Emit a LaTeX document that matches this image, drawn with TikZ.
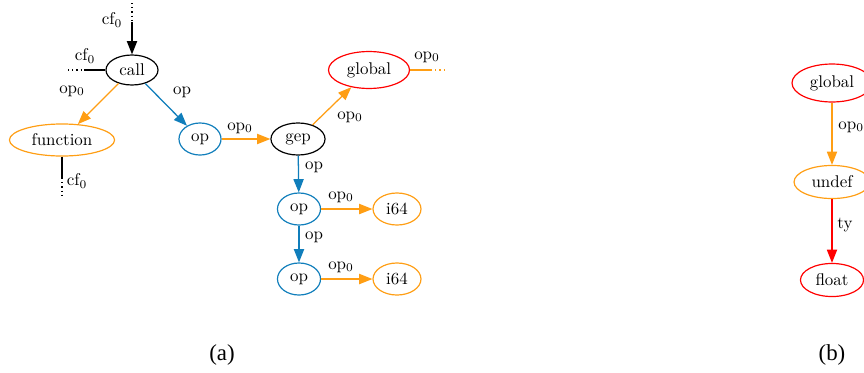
\documentclass[tikz,border=0pt]{standalone}
\usepackage{fontspec}
\newfontfamily\capfont{Liberation Serif}
\usetikzlibrary{shapes.geometric,arrows.meta}

\definecolor{opblue}{RGB}{16,126,187}
\definecolor{oporange}{RGB}{255,158,20}
\definecolor{opred}{RGB}{255,0,0}

\tikzset{
  vtx/.style={ellipse, draw, line width=0.7pt, inner sep=0pt, minimum height=18.9pt, font=\normalsize},
  blk/.style={vtx, draw=black},
  orn/.style={vtx, draw=oporange},
  blu/.style={vtx, draw=opblue},
  rd/.style={vtx, draw=opred},
  arr/.style={line width=0.75pt, -{Triangle[length=7.8pt,width=6pt]}},
  solidln/.style={line width=0.75pt},
  dotln/.style={line width=0.75pt, dash pattern=on 0.7pt off 1.8pt},
  lbl/.style={inner sep=0pt, font=\normalsize},
  captxt/.style={inner sep=0pt, font=\capfont\fontsize{13.5}{15}\selectfont}
}

\begin{document}
\begin{tikzpicture}[x=0.59pt, y=-0.59pt]
  \useasboundingbox (0,0) rectangle (864,372);

  % ---- (a): call / gep graph ----
  \node[blk, minimum width=30.7pt, minimum height=17.7pt] (call) at (132,70) {call};
  \node[orn, minimum width=62pt] (func) at (62,140) {function};
  \node[blu, minimum width=24.8pt] (op1) at (200,139) {op};
  \node[blk, minimum width=31.9pt] (gep) at (298,139) {gep};
  \node[rd, minimum width=47.8pt, minimum height=21.8pt] (glob) at (369,70) {global};
  \node[blu, minimum width=25.4pt] (op2) at (299,209) {op};
  \node[orn, minimum width=28.3pt] (i1) at (397,209) {i64};
  \node[blu, minimum width=25.4pt] (op3) at (299,279) {op};
  \node[orn, minimum width=28.3pt] (i2) at (397,279) {i64};

  % loose ends of control-flow and operand edges
  \coordinate (topA) at (132,3);
  \coordinate (topB) at (132,22);
  \coordinate (leftA) at (68,70);
  \coordinate (leftB) at (84,70);
  \coordinate (botA) at (62,178);
  \coordinate (botB) at (62,197);
  \coordinate (rightA) at (431,70);
  \coordinate (rightB) at (447,70);

  \draw[dotln] (topA) -- (topB);
  \draw[arr] (topB) -- (call);
  \draw[dotln] (leftA) -- (leftB);
  \draw[solidln] (leftB) -- (call);
  \draw[solidln] (func) -- (botA);
  \draw[dotln] (botA) -- (botB);
  \draw[solidln, oporange] (glob) -- (rightA);
  \draw[dotln, oporange] (rightA) -- (rightB);

  \draw[arr, oporange] (call) -- (func);
  \draw[arr, opblue] (call) -- (op1);
  \draw[arr, oporange] (op1) -- (gep);
  \draw[arr, oporange] (gep) -- (glob);
  \draw[arr, opblue] (gep) -- (op2);
  \draw[arr, oporange] (op2) -- (i1);
  \draw[arr, opblue] (op2) -- (op3);
  \draw[arr, oporange] (op3) -- (i2);

  % edge labels
  \node[lbl] (l1) at (112,20) {cf$_0$};
  \node[lbl] (l2) at (85,56) {cf$_0$};
  \node[lbl] (l3) at (72,91) {op$_0$};
  \node[lbl] (l4) at (182,92) {op};
  \node[lbl] (l5) at (77,181) {cf$_0$};
  \node[lbl] (l6) at (240,128) {op$_0$};
  \node[lbl] (l7) at (350,117) {op$_0$};
  \node[lbl] (l8) at (427,57) {op$_0$};
  \node[lbl] (l9) at (314,167) {op};
  \node[lbl] (l10) at (341,197) {op$_0$};
  \node[lbl] (l11) at (314,237) {op};
  \node[lbl] (l12) at (341,267) {op$_0$};

  % ---- (b): global / undef / float ----
  \node[rd, minimum width=47.2pt, minimum height=22.4pt] (gb) at (832,83) {global};
  \node[orn, minimum width=44.8pt, minimum height=19.5pt] (ud) at (832,182) {undef};
  \node[rd, minimum width=37.2pt, minimum height=19.5pt] (fl) at (832,280) {float};

  \draw[arr, oporange] (gb) -- (ud);
  \draw[arr, opred] (ud) -- (fl);

  \node[lbl, anchor=west] (l13) at (838,127) {op$_0$};
  \node[lbl] (l14) at (845,225) {ty};

  % captions
  \node[captxt] (capa) at (222,355) {(a)};
  \node[captxt] (capb) at (832,355) {(b)};
\end{tikzpicture}
\end{document}
